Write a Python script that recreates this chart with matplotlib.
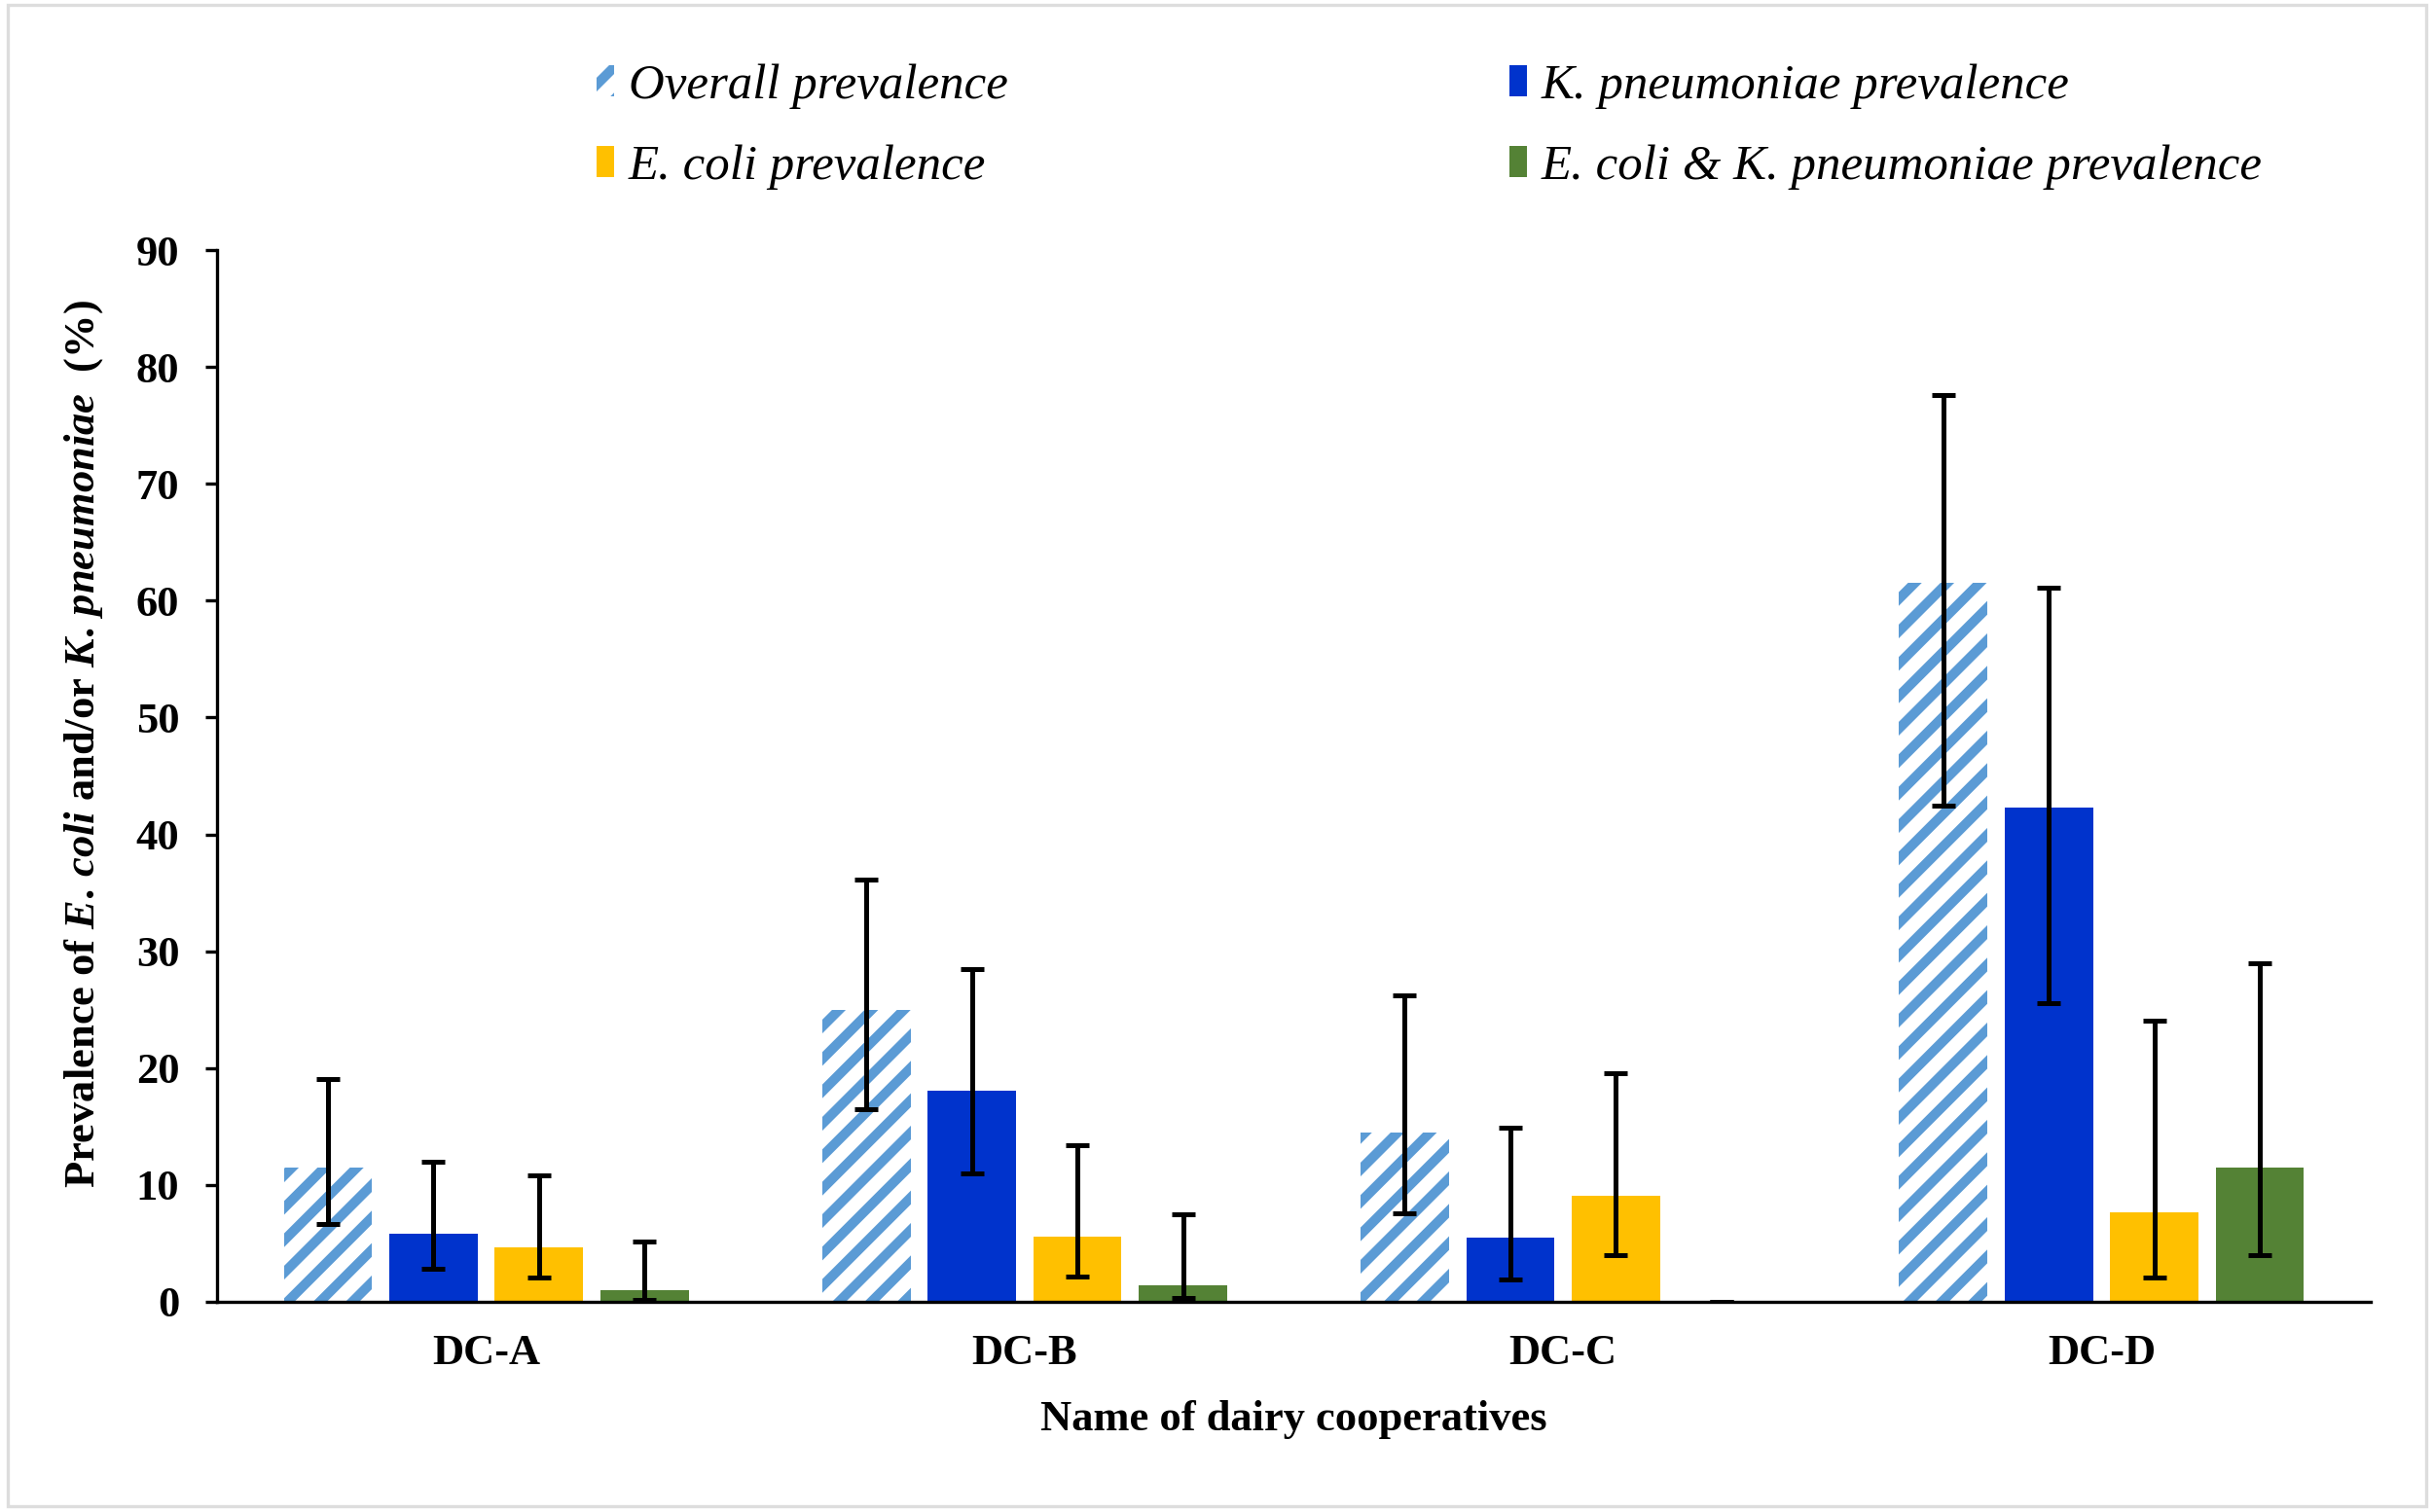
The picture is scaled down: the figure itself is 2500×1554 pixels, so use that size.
import matplotlib
matplotlib.use("Agg")
import matplotlib.pyplot as plt
import numpy as np
from matplotlib.patches import Rectangle

categories = ["DC-A", "DC-B", "DC-C", "DC-D"]
series = ["Overall prevalence", "K. pneumoniae prevalence", "E. coli prevalence",
          "E. coli & K. pneumoniae prevalence"]

overall = [11.5, 25.0, 14.5, 61.5]
overall_lo = [6.7, 16.5, 7.6, 42.5]
overall_hi = [19.1, 36.1, 26.2, 77.6]

kpn = [5.8, 18.1, 5.5, 42.3]
kpn_lo = [2.8, 11.0, 1.9, 25.6]
kpn_hi = [12.0, 28.5, 14.9, 61.1]

ecoli = [4.7, 5.6, 9.1, 7.7]
ecoli_lo = [2.1, 2.2, 4.0, 2.1]
ecoli_hi = [10.8, 13.4, 19.6, 24.1]

both = [1.0, 1.4, 0.0, 11.5]
both_lo = [0.2, 0.3, 0.0, 4.0]
both_hi = [5.2, 7.5, 0.0, 29.0]

yticks = [0, 10, 20, 30, 40, 50, 60, 70, 80, 90]

plt.rcParams['font.family'] = ['Liberation Serif', 'DejaVu Serif']
plt.rcParams['mathtext.fontset'] = 'custom'
plt.rcParams['mathtext.rm'] = 'Liberation Serif:bold'
plt.rcParams['mathtext.it'] = 'Liberation Serif:italic:bold'
plt.rcParams['mathtext.bf'] = 'Liberation Serif:bold'
plt.rcParams['hatch.linewidth'] = 3.6

fig = plt.figure(figsize=(12.5, 7.77), dpi=200)
ax = fig.add_axes([0.0892, 0.139, 0.8852, 0.6956])

x = np.arange(len(categories))
w = 0.164
step = 0.196
data = [
    (overall, overall_lo, overall_hi, dict(facecolor='white', edgecolor='#5B9BD5', hatch='//', linewidth=0)),
    (kpn, kpn_lo, kpn_hi, dict(color='#0033CC', linewidth=0)),
    (ecoli, ecoli_lo, ecoli_hi, dict(color='#FFC000', linewidth=0)),
    (both, both_lo, both_hi, dict(color='#548235', linewidth=0)),
]
handles = []
for i, (vals, lo, hi, style) in enumerate(data):
    vals = np.array(vals); lo = np.array(lo); hi = np.array(hi)
    pos = x + (i - 1.5) * step
    b = ax.bar(pos, vals, width=w, label=series[i], zorder=2, **style)
    ax.errorbar(pos, vals, yerr=[vals - lo, hi - vals], fmt='none', ecolor='black',
                elinewidth=1.8, capsize=4.2, capthick=1.8, zorder=3)
    handles.append(b)

ax.set_xlim(-0.5, 3.5)
ax.set_ylim(0, 90)
ax.set_yticks(yticks)
ax.set_xticks(x)
ax.set_xticklabels(categories)
for s in ['top', 'right']:
    ax.spines[s].set_visible(False)
for s in ['left', 'bottom']:
    ax.spines[s].set_linewidth(1.2)
ax.tick_params(axis='y', length=4.4, width=1.2, pad=9.5, labelsize=16)
ax.tick_params(axis='x', length=0, pad=12, labelsize=16)
for lab in ax.get_xticklabels() + ax.get_yticklabels():
    lab.set_fontweight('bold')

ax.set_xlabel("Name of dairy cooperatives", fontsize=16, fontweight='bold', labelpad=10)
ax.set_ylabel(r"Prevalence of $\it{E.\,coli}$ and/or $\it{K.\,pneumoniae}$  (%)",
              fontsize=16, fontweight='bold')
ax.yaxis.set_label_coords(-0.052, 0.53)

order = [0, 2, 1, 3]
leg = fig.legend([handles[k] for k in order], [series[k] for k in order],
                 loc='upper left', bbox_to_anchor=(0.2452, 0.958), ncol=2,
                 frameon=False, prop=dict(family='Liberation Serif', style='italic', size=18.3),
                 handlelength=0.35, handleheight=0.6, handletextpad=0.3,
                 columnspacing=10.13, labelspacing=0.72, borderpad=0, borderaxespad=0)

fig.patches.append(Rectangle((0.003, 0.004), 0.994, 0.993, transform=fig.transFigure,
                             fill=False, edgecolor='#DDDDDD', linewidth=1.2))

fig.savefig("out.png", dpi=200, facecolor='white')
